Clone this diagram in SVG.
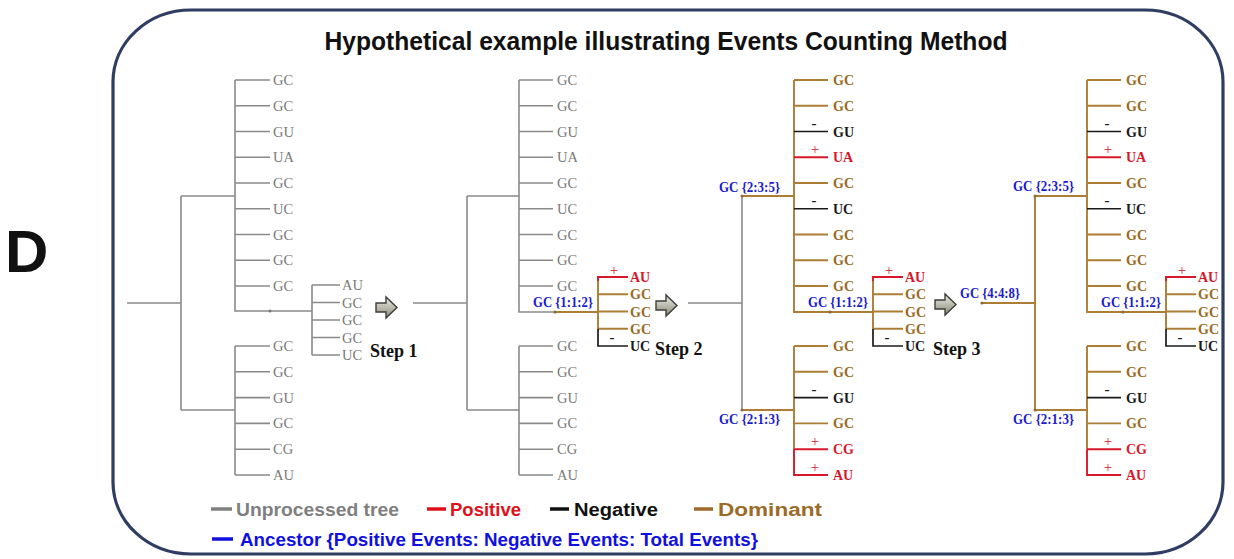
<svg xmlns="http://www.w3.org/2000/svg" width="1234" height="559" viewBox="0 0 1234 559">
<style>
.g{stroke:#8a8a8a;stroke-width:1.6;fill:none}
.b{stroke:#ad7d36;stroke-width:1.9;fill:none}
.r{stroke:#d8182a;stroke-width:1.9;fill:none}
.k{stroke:#1a1a1a;stroke-width:1.7;fill:none}
.t{font-family:"Liberation Serif",serif;font-size:14.5px}
.tg{fill:#7a7a7a}
.tb{fill:#9a6a24;font-weight:bold;font-size:14px}
.tr{fill:#d8182a;font-weight:bold;font-size:14px}
.tk{fill:#1a1a1a;font-weight:bold;font-size:14px}
.anc{font-family:"Liberation Serif",serif;font-size:14px;font-weight:bold;fill:#1a1ad0}
.plus{font-family:"Liberation Serif",serif;font-size:15px;fill:#d8182a;text-anchor:middle}
.minus{font-family:"Liberation Serif",serif;font-size:15px;font-weight:bold;fill:#1a1a1a;text-anchor:middle}
.step{font-family:"Liberation Serif",serif;font-size:18px;font-weight:bold;fill:#111}
.leg{font-family:"Liberation Sans",sans-serif;font-size:18px;font-weight:bold}
</style>
<defs>
<linearGradient id="ag" x1="0" y1="0" x2="0" y2="1">
<stop offset="0" stop-color="#ecece4"/>
<stop offset="1" stop-color="#8a8a7c"/>
</linearGradient>
<path id="arrow" d="M0,6 H10 V0 L21,10.5 L10,21 V15 H0 Z" fill="url(#ag)" stroke="#3e3e38" stroke-width="1.4"/>
</defs>

<rect x="113" y="10" width="1110" height="544" rx="78" ry="72" fill="none" stroke="#2f3d62" stroke-width="3.2"/>

<text x="666" y="50" text-anchor="middle" font-family="'Liberation Sans',sans-serif" font-size="25" font-weight="bold" fill="#111" textLength="683" lengthAdjust="spacingAndGlyphs">Hypothetical example illustrating Events Counting Method</text>
<text x="5" y="272" font-family="'Liberation Sans',sans-serif" font-size="60" font-weight="bold" fill="#111">D</text>

<g id="connectors">
<g id="tree1-lines">
<path class="g" d="M127,303 H181 M181,196 V410 M181,196 H235 M181,410 H235 M235,80 V311 H312 M312,285 V355 M235,346 V475"/>
<path class="g" d="M235,80 H270 M235,105.75 H270 M235,131.5 H270 M235,157.25 H270 M235,183 H270 M235,208.75 H270 M235,234.5 H270 M235,260.25 H270 M235,286 H270"/>
<path class="g" d="M235,346 H270 M235,371.8 H270 M235,397.6 H270 M235,423.4 H270 M235,449.2 H270 M235,475 H270"/>
<path class="g" d="M312,285 H340 M312,302.5 H340 M312,320 H340 M312,337.5 H340 M312,355 H340"/>
<circle cx="270" cy="311" r="1.5" fill="#777"/>
</g>
<g id="tree2-lines">
<path class="g" d="M413,303 H467 M467,196 V410 M467,196 H519 M467,410 H519 M519,80 V312 H555 M519,346 V475"/>
<path class="g" d="M519,80 H553 M519,105.75 H553 M519,131.5 H553 M519,157.25 H553 M519,183 H553 M519,208.75 H553 M519,234.5 H553 M519,260.25 H553 M519,286 H553"/>
<path class="g" d="M519,346 H553 M519,371.8 H553 M519,397.6 H553 M519,423.4 H553 M519,449.2 H553 M519,475 H553"/>
<path class="b" d="M555,312 H598 M598,281 V328.75 M598,294.25 H628 M598,311.5 H628 M598,328.75 H628"/>
<path class="r" d="M598,281 V277 H628"/>
<path class="k" d="M598,328.75 V346 H628"/>
<circle cx="555" cy="312" r="1.6" fill="#8a6a3a"/>
</g>
<g id="tree3-lines" transform="translate(275,0)">
<path class="g" d="M413,303 H467 M467,196 V410"/>
<path class="b" d="M467,196 H519 M467,410 H519 M519,80 V312 H598 M519,346 V449.2"/>
<path class="b" d="M519,80 H553 M519,105.75 H553 M519,183 H553 M519,234.5 H553 M519,260.25 H553 M519,286 H553"/>
<path class="k" d="M519,131.5 H553 M519,208.75 H553"/>
<path class="r" d="M519,157.25 H553"/>
<path class="b" d="M519,346 H553 M519,371.8 H553 M519,423.4 H553"/>
<path class="k" d="M519,397.6 H553"/>
<path class="r" d="M519,449.2 H553 M519,449.2 V475 H553"/>
<path class="b" d="M598,281 V328.75 M598,294.25 H628 M598,311.5 H628 M598,328.75 H628"/>
<path class="r" d="M598,281 V277 H628"/>
<path class="k" d="M598,328.75 V346 H628"/>
<circle cx="555" cy="312" r="1.6" fill="#8a6a3a"/>
<circle cx="467" cy="196" r="1.5" fill="#8a6a3a"/>
<circle cx="467" cy="410" r="1.5" fill="#8a6a3a"/>
</g>
<g id="tree4-lines" transform="translate(568,0)">
<path class="b" d="M414,303 H467 M467,196 V410"/>
<path class="b" d="M467,196 H519 M467,410 H519 M519,80 V312 H598 M519,346 V449.2"/>
<path class="b" d="M519,80 H553 M519,105.75 H553 M519,183 H553 M519,234.5 H553 M519,260.25 H553 M519,286 H553"/>
<path class="k" d="M519,131.5 H553 M519,208.75 H553"/>
<path class="r" d="M519,157.25 H553"/>
<path class="b" d="M519,346 H553 M519,371.8 H553 M519,423.4 H553"/>
<path class="k" d="M519,397.6 H553"/>
<path class="r" d="M519,449.2 H553 M519,449.2 V475 H553"/>
<path class="b" d="M598,281 V328.75 M598,294.25 H628 M598,311.5 H628 M598,328.75 H628"/>
<path class="r" d="M598,281 V277 H628"/>
<path class="k" d="M598,328.75 V346 H628"/>
<circle cx="555" cy="312" r="1.6" fill="#8a6a3a"/>
<circle cx="414" cy="303" r="1.6" fill="#8a6a3a"/>
<circle cx="467" cy="196" r="1.5" fill="#8a6a3a"/>
<circle cx="467" cy="410" r="1.5" fill="#8a6a3a"/>
</g>
</g>

<g id="tree1-labels" class="t tg">
<text x="273" y="85">GC</text><text x="273" y="110.75">GC</text><text x="273" y="136.5">GU</text>
<text x="273" y="162.25">UA</text><text x="273" y="188">GC</text><text x="273" y="213.75">UC</text>
<text x="273" y="239.5">GC</text><text x="273" y="265.25">GC</text><text x="273" y="291">GC</text>
<text x="273" y="351">GC</text><text x="273" y="376.8">GC</text><text x="273" y="402.6">GU</text>
<text x="273" y="428.4">GC</text><text x="273" y="454.2">CG</text><text x="273" y="480">AU</text>
<text x="342" y="290">AU</text><text x="342" y="307.5">GC</text><text x="342" y="325">GC</text>
<text x="342" y="342.5">GC</text><text x="342" y="360">UC</text>
</g>

<g id="tree2-labels" class="t">
<g class="tg">
<text x="557" y="85">GC</text><text x="557" y="110.75">GC</text><text x="557" y="136.5">GU</text>
<text x="557" y="162.25">UA</text><text x="557" y="188">GC</text><text x="557" y="213.75">UC</text>
<text x="557" y="239.5">GC</text><text x="557" y="265.25">GC</text><text x="557" y="291">GC</text>
<text x="557" y="351">GC</text><text x="557" y="376.8">GC</text><text x="557" y="402.6">GU</text>
<text x="557" y="428.4">GC</text><text x="557" y="454.2">CG</text><text x="557" y="480">AU</text>
</g>
<text class="tr" x="630" y="282">AU</text>
<text class="tb" x="630" y="299.25">GC</text><text class="tb" x="630" y="316.5">GC</text><text class="tb" x="630" y="333.75">GC</text>
<text class="tk" x="630" y="351">UC</text>
<text class="plus" x="614" y="275">+</text>
<text class="minus" x="612" y="342">-</text>
<text class="anc" x="533" y="307" textLength="60" lengthAdjust="spacingAndGlyphs">GC {1:1:2}</text>
</g>

<g id="tree3-labels" class="t" transform="translate(275,0)">
<text class="tb" x="558" y="85">GC</text><text class="tb" x="558" y="110.75">GC</text><text class="tk" x="558" y="136.5">GU</text>
<text class="tr" x="558" y="162.25">UA</text><text class="tb" x="558" y="188">GC</text><text class="tk" x="558" y="213.75">UC</text>
<text class="tb" x="558" y="239.5">GC</text><text class="tb" x="558" y="265.25">GC</text><text class="tb" x="558" y="291">GC</text>
<text class="tb" x="558" y="351">GC</text><text class="tb" x="558" y="376.8">GC</text><text class="tk" x="558" y="402.6">GU</text>
<text class="tb" x="558" y="428.4">GC</text><text class="tr" x="558" y="454.2">CG</text><text class="tr" x="558" y="480">AU</text>
<text class="tr" x="630" y="282">AU</text>
<text class="tb" x="630" y="299.25">GC</text><text class="tb" x="630" y="316.5">GC</text><text class="tb" x="630" y="333.75">GC</text>
<text class="tk" x="630" y="351">UC</text>
<text class="minus" x="539" y="127.5">-</text><text class="plus" x="540" y="154">+</text><text class="minus" x="539" y="204.75">-</text>
<text class="minus" x="539" y="393.6">-</text><text class="plus" x="540" y="446">+</text><text class="plus" x="540" y="471.8">+</text>
<text class="plus" x="614" y="275">+</text><text class="minus" x="612" y="342">-</text>
<text class="anc" x="444" y="192" textLength="61" lengthAdjust="spacingAndGlyphs">GC {2:3:5}</text>
<text class="anc" x="444" y="424" textLength="61" lengthAdjust="spacingAndGlyphs">GC {2:1:3}</text>
<text class="anc" x="533" y="307" textLength="60" lengthAdjust="spacingAndGlyphs">GC {1:1:2}</text>
</g>

<g id="tree4-labels" class="t" transform="translate(568,0)">
<text class="tb" x="558" y="85">GC</text><text class="tb" x="558" y="110.75">GC</text><text class="tk" x="558" y="136.5">GU</text>
<text class="tr" x="558" y="162.25">UA</text><text class="tb" x="558" y="188">GC</text><text class="tk" x="558" y="213.75">UC</text>
<text class="tb" x="558" y="239.5">GC</text><text class="tb" x="558" y="265.25">GC</text><text class="tb" x="558" y="291">GC</text>
<text class="tb" x="558" y="351">GC</text><text class="tb" x="558" y="376.8">GC</text><text class="tk" x="558" y="402.6">GU</text>
<text class="tb" x="558" y="428.4">GC</text><text class="tr" x="558" y="454.2">CG</text><text class="tr" x="558" y="480">AU</text>
<text class="tr" x="630" y="282">AU</text>
<text class="tb" x="630" y="299.25">GC</text><text class="tb" x="630" y="316.5">GC</text><text class="tb" x="630" y="333.75">GC</text>
<text class="tk" x="630" y="351">UC</text>
<text class="minus" x="539" y="127.5">-</text><text class="plus" x="540" y="154">+</text><text class="minus" x="539" y="204.75">-</text>
<text class="minus" x="539" y="393.6">-</text><text class="plus" x="540" y="446">+</text><text class="plus" x="540" y="471.8">+</text>
<text class="plus" x="614" y="275">+</text><text class="minus" x="612" y="342">-</text>
<text class="anc" x="445" y="191" textLength="61" lengthAdjust="spacingAndGlyphs">GC {2:3:5}</text>
<text class="anc" x="445" y="424" textLength="61" lengthAdjust="spacingAndGlyphs">GC {2:1:3}</text>
<text class="anc" x="533" y="307" textLength="60" lengthAdjust="spacingAndGlyphs">GC {1:1:2}</text>
<text class="anc" x="392" y="298" textLength="60" lengthAdjust="spacingAndGlyphs">GC {4:4:8}</text>
</g>

<g id="step1">
<use href="#arrow" transform="translate(376,297)"/>
<text class="step" x="370" y="357">Step 1</text>
</g>
<g id="step2">
<use href="#arrow" transform="translate(656,295)"/>
<text class="step" x="655" y="355">Step 2</text>
</g>
<g id="step3">
<use href="#arrow" transform="translate(935,294)"/>
<text class="step" x="933" y="355">Step 3</text>
</g>

<g id="legend">
<path d="M211,509 H232" stroke="#7f7f7f" stroke-width="3.5"/>
<text class="leg" x="236" y="516" fill="#7f7f7f" textLength="163" lengthAdjust="spacingAndGlyphs">Unprocessed tree</text>
<path d="M427,509 H446" stroke="#e0101a" stroke-width="3.5"/>
<text class="leg" x="450" y="516" fill="#e0101a" textLength="71" lengthAdjust="spacingAndGlyphs">Positive</text>
<path d="M550,509 H569" stroke="#111" stroke-width="3.5"/>
<text class="leg" x="574" y="516" fill="#111" textLength="84" lengthAdjust="spacingAndGlyphs">Negative</text>
<path d="M694,509 H713" stroke="#9c6b28" stroke-width="3.5"/>
<text class="leg" x="718" y="516" fill="#9c6b28" textLength="104" lengthAdjust="spacingAndGlyphs">Dominant</text>
<path d="M212,539 H233" stroke="#1010e0" stroke-width="3.5"/>
<text class="leg" x="240" y="546" fill="#1010e0" textLength="518" lengthAdjust="spacingAndGlyphs">Ancestor {Positive Events: Negative Events: Total Events}</text>
</g>
</svg>
